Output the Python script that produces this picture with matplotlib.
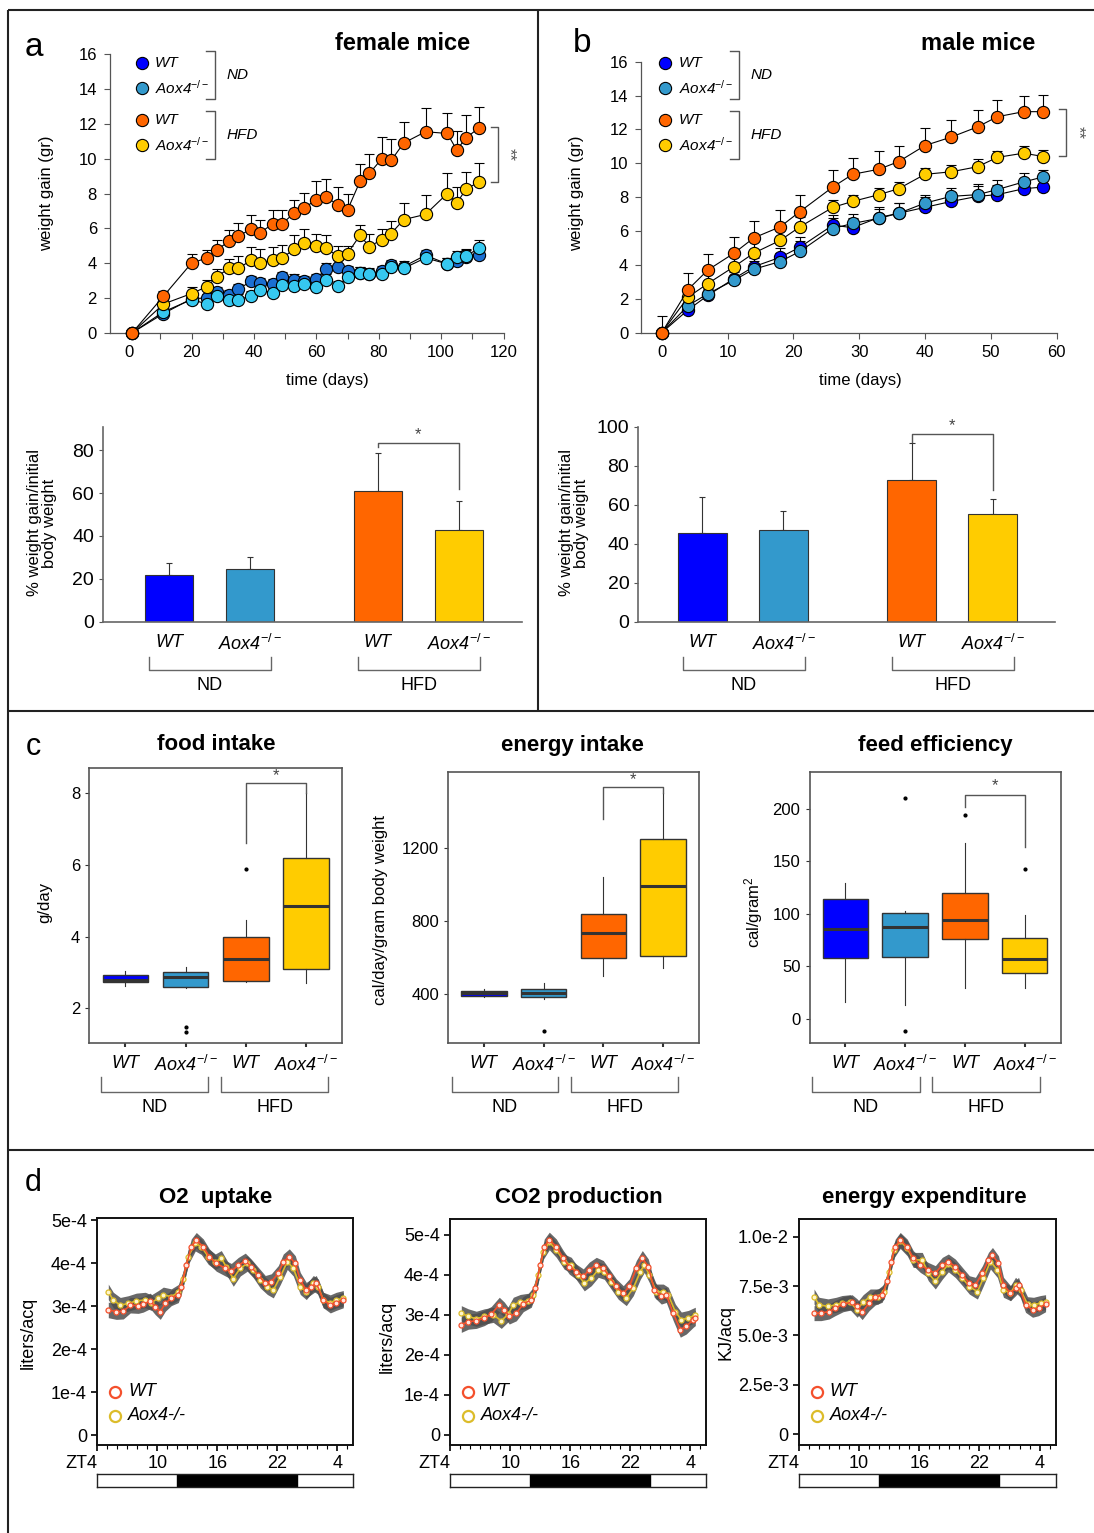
import matplotlib
matplotlib.use('Agg')
import matplotlib.pyplot as plt
import numpy as np

plt.rcParams['font.family'] = ['Liberation Sans', 'DejaVu Sans']
plt.rcParams['mathtext.fontset'] = 'custom'
plt.rcParams['mathtext.rm'] = 'Liberation Sans'
plt.rcParams['mathtext.it'] = 'Liberation Sans:italic'

W, H = 1094, 1533

# colours
C_WT_ND = '#0000ff'
C_KO_ND = '#3399cc'
C_WT_HFD = '#ff6600'
C_KO_HFD = '#ffcc00'
C_WT_ND_F = '#1b6fd2'   # plotted points in female panel
C_KO_ND_F = '#36c8f0'
C_D_WT = '#f4502c'
C_D_KO = '#dcbc2a'

# ---------- panel a: female weight gain ----------
female_days = [1, 11, 20, 25, 28, 32, 35, 39, 42, 46, 49, 53, 56, 60, 63, 67, 70,
               74, 77, 81, 84, 88, 95, 102, 105, 108, 112]
fem_wt_hfd = [0, 2.1, 4.0, 4.3, 4.75, 5.25, 5.55, 5.95, 5.75, 6.25, 6.25, 6.9, 7.15, 7.65,
              7.8, 7.35, 7.05, 8.7, 9.15, 10.0, 9.9, 10.9, 11.55, 11.45, 10.5, 11.2, 11.75]
fem_wt_hfd_err = [0, 0.3, 0.55, 0.45, 0.55, 0.65, 0.75, 0.8, 0.75, 0.8, 0.8, 0.75, 0.9, 1.05,
                  1.05, 1.0, 0.95, 1.0, 1.1, 1.25, 1.25, 1.2, 1.35, 1.2, 1.1, 1.3, 1.2]
fem_ko_hfd = [0, 1.65, 2.25, 2.65, 3.2, 3.7, 3.7, 4.15, 4.0, 4.2, 4.3, 4.8, 5.15, 5.0,
              4.85, 4.4, 4.55, 5.6, 4.95, 5.35, 5.7, 6.5, 6.8, 8.0, 7.45, 8.25, 8.65]
fem_ko_hfd_err = [0, 0.3, 0.4, 0.4, 0.45, 0.55, 0.7, 0.75, 0.8, 0.75, 0.75, 0.8, 0.8, 0.7,
                  0.75, 0.6, 0.45, 0.6, 0.75, 0.6, 0.7, 0.95, 1.1, 1.2, 0.95, 1.0, 1.1]
fem_wt_nd = [0, 1.1, 1.95, 2.0, 2.35, 2.15, 2.5, 2.95, 2.85, 2.8, 3.2, 3.05, 2.95, 3.1,
             3.65, 3.8, 3.55, 3.45, 3.35, 3.55, 3.9, 3.8, 4.45, 3.95, 4.1, 4.35, 4.45]
fem_wt_nd_err = [0, 0.2, 0.25, 0.25, 0.3, 0.3, 0.3, 0.3, 0.3, 0.3, 0.3, 0.3, 0.3, 0.3,
                 0.35, 0.35, 0.3, 0.3, 0.3, 0.3, 0.3, 0.3, 0.3, 0.35, 0.4, 0.4, 0.45]
fem_ko_nd = [0, 1.2, 1.9, 1.65, 2.1, 1.9, 1.9, 2.1, 2.45, 2.3, 2.75, 2.7, 2.8, 2.6,
             3.05, 2.7, 3.2, 3.45, 3.4, 3.4, 3.8, 3.7, 4.3, 3.95, 4.35, 4.4, 4.85]
fem_ko_nd_err = [0, 0.2, 0.25, 0.25, 0.25, 0.3, 0.3, 0.3, 0.3, 0.3, 0.3, 0.3, 0.3, 0.3,
                 0.3, 0.3, 0.3, 0.3, 0.3, 0.3, 0.3, 0.3, 0.3, 0.35, 0.35, 0.4, 0.45]

# ---------- panel b: male weight gain ----------
male_days = [0, 4, 7, 11, 14, 18, 21, 26, 29, 33, 36, 40, 44, 48, 51, 55, 58]
male_wt_hfd = [0, 2.55, 3.7, 4.7, 5.6, 6.25, 7.15, 8.6, 9.35, 9.65, 10.1, 11.05, 11.55,
               12.15, 12.75, 13.05, 13.05]
male_wt_hfd_err = [0, 0.95, 0.95, 0.95, 1.0, 1.0, 1.0, 1.0, 0.95, 1.05, 0.95, 1.05, 1.0,
                   1.0, 1.0, 0.95, 1.0]
male_ko_hfd = [0, 2.1, 2.9, 3.9, 4.7, 5.45, 6.25, 7.4, 7.75, 8.15, 8.5, 9.35, 9.5, 9.8,
               10.35, 10.6, 10.4]
male_ko_hfd_err = [0, 0.6, 0.7, 0.7, 0.7, 0.65, 0.6, 0.45, 0.4, 0.4, 0.4, 0.35, 0.4, 0.45,
                   0.35, 0.4, 0.4]
male_wt_nd = [0, 1.35, 2.2, 3.2, 3.9, 4.45, 5.05, 6.35, 6.2, 6.8, 7.05, 7.4, 7.75, 8.05,
              8.15, 8.5, 8.6]
male_wt_nd_err = [0, 0.4, 0.4, 0.5, 0.5, 0.55, 0.6, 0.6, 0.6, 0.6, 0.6, 0.6, 0.55, 0.6,
                  0.55, 0.55, 0.55]
male_ko_nd = [0, 1.6, 2.3, 3.1, 3.75, 4.2, 4.8, 6.15, 6.45, 6.75, 7.05, 7.65, 8.05, 8.15,
              8.45, 8.9, 9.2]
male_ko_nd_err = [1.0, 0.45, 0.45, 0.5, 0.5, 0.5, 0.6, 0.6, 0.55, 0.55, 0.6, 0.5, 0.5,
                  0.65, 0.55, 0.5, 0.4]

# ---------- % weight gain bars ----------
bar_labels = ['WT', 'Aox4$^{-/-}$', 'WT', 'Aox4$^{-/-}$']
fem_pct = [22.0, 24.4, 60.9, 42.7]
fem_pct_err = [5.5, 5.6, 18.0, 13.7]
male_pct = [45.3, 47.0, 72.5, 55.0]
male_pct_err = [18.8, 9.9, 19.0, 8.1]

# ---------- panel c boxplots ----------
food_q1 = [2.73, 2.60, 2.77, 3.10]
food_med = [2.79, 2.88, 3.37, 4.84]
food_q3 = [2.93, 3.00, 4.00, 6.19]
food_lo = [2.62, 2.56, 2.73, 2.70]
food_hi = [3.04, 3.16, 4.47, 8.00]
food_out = [[], [1.49, 1.35], [5.89], []]

energy_q1 = [393, 384, 600, 609]
energy_med = [407, 407, 733, 993]
energy_q3 = [418, 427, 836, 1245]
energy_lo = [384, 376, 500, 542]
energy_hi = [427, 464, 1042, 1496]
energy_out = [[], [202], [], []]

feed_q1 = [58.3, 59.3, 75.8, 43.4]
feed_med = [85.6, 87.8, 94.1, 57.0]
feed_q3 = [114.1, 101.1, 120.1, 77.3]
feed_lo = [16.5, 13.3, 29.2, 29.2]
feed_hi = [129.6, 102.4, 167.0, 98.9]
feed_out = [[], [209.8, -11.4], [194.0], [142.6]]

# ---------- panel d indirect calorimetry ----------
o2_wt_zt = [5.1, 5.9, 6.6, 7.3, 8.1, 8.6, 9.3, 9.8, 10.3, 10.8, 11.4, 12.1, 12.4, 12.9, 13.4,
            13.9, 14.6, 15.2, 15.9, 16.8, 17.4, 18.1, 18.8, 19.4, 20.1, 20.8, 21.4, 22.1,
            22.6, 23.2, 23.8, 24.3, 24.9, 25.4, 25.9, 26.6, 27.3, 27.9, 28.6]
o2_wt = [2.91, 2.87, 2.88, 3.02, 3.01, 3.04, 3.12, 2.98, 2.87, 3.06, 3.19, 3.26, 3.45, 3.95,
         4.38, 4.53, 4.38, 4.15, 3.99, 3.88, 3.81, 3.95, 4.05, 3.91, 3.72, 3.53, 3.57, 3.76,
         4.03, 4.15, 3.99, 3.60, 3.37, 3.45, 3.53, 3.14, 3.02, 3.08, 3.14]
o2_ko_zt = [5.1, 5.6, 6.3, 7.1, 7.9, 8.8, 9.4, 10.1, 10.6, 11.4, 12.1, 12.6, 13.1, 13.8, 14.4,
            15.1, 15.8, 16.4, 16.9, 17.6, 18.3, 19.0, 19.6, 20.3, 21.0, 21.6, 22.3, 23.0,
            23.6, 24.3, 24.9, 25.6, 26.1, 26.6, 27.3, 27.9, 28.6]
o2_ko = [3.33, 3.14, 3.02, 3.06, 3.12, 3.14, 3.08, 3.18, 3.26, 3.22, 3.32, 3.64, 4.15, 4.46,
         4.38, 4.15, 4.03, 4.11, 3.91, 3.64, 3.88, 3.99, 3.84, 3.60, 3.45, 3.37, 3.68, 4.03,
         3.88, 3.45, 3.33, 3.53, 3.45, 3.14, 3.08, 3.14, 3.18]

co2_wt_zt = [5.1, 5.8, 6.6, 7.4, 8.1, 8.9, 9.4, 9.9, 10.6, 11.3, 12.1, 12.5, 13.0, 13.4, 13.9,
             14.6, 15.3, 15.9, 16.6, 17.3, 17.9, 18.6, 19.3, 19.9, 20.6, 21.3, 21.9, 22.6,
             23.2, 23.8, 24.4, 25.1, 25.6, 26.3, 27.0, 27.6, 28.3, 28.5]
co2_wt = [2.75, 2.83, 2.85, 2.92, 3.02, 3.25, 3.13, 2.96, 3.04, 3.27, 3.38, 3.67, 4.25, 4.71,
          4.88, 4.71, 4.42, 4.21, 4.08, 3.96, 4.13, 4.25, 4.17, 3.96, 3.71, 3.54, 3.71, 4.17,
          4.42, 4.21, 3.63, 3.46, 3.50, 3.04, 2.63, 2.71, 2.88, 2.92]
co2_ko_zt = [5.1, 5.8, 6.6, 7.4, 8.3, 9.1, 9.8, 10.3, 11.0, 11.8, 12.3, 12.8, 13.3, 13.9, 14.6,
             15.4, 16.1, 16.8, 17.4, 18.1, 18.8, 19.4, 20.1, 20.8, 21.6, 22.3, 23.0, 23.4,
             23.9, 24.6, 25.3, 25.8, 26.5, 27.1, 27.8, 28.5]
co2_ko = [3.04, 2.96, 2.90, 2.96, 3.00, 2.85, 3.02, 3.25, 3.32, 3.35, 3.50, 4.00, 4.58, 4.82,
          4.63, 4.33, 4.25, 4.00, 3.79, 3.92, 4.13, 4.08, 3.83, 3.58, 3.42, 3.67, 4.08, 4.25,
          4.00, 3.58, 3.58, 3.50, 3.08, 2.88, 2.92, 3.00]

ee_wt_zt = [5.5, 6.2, 7.0, 7.6, 8.4, 9.3, 9.8, 10.3, 11.0, 11.6, 12.3, 12.8, 13.2, 13.6, 14.1,
            14.8, 15.4, 16.1, 16.9, 17.6, 18.3, 18.9, 19.6, 20.3, 21.0, 21.6, 22.3, 22.9,
            23.3, 23.9, 24.4, 25.1, 25.6, 25.9, 26.6, 27.3, 27.9, 28.6]
ee_wt = [6.13, 6.13, 6.21, 6.38, 6.58, 6.68, 6.47, 6.18, 6.64, 6.92, 7.06, 7.73, 8.74, 9.49,
         9.83, 9.49, 8.91, 8.57, 8.31, 8.15, 8.57, 8.74, 8.48, 8.06, 7.64, 7.56, 8.15, 8.82,
         9.07, 8.65, 7.56, 7.14, 7.39, 7.56, 6.55, 6.30, 6.38, 6.58]
ee_ko_zt = [5.5, 6.0, 6.9, 7.7, 8.3, 9.1, 9.8, 10.4, 11.1, 11.9, 12.5, 13.0, 13.5, 14.1, 14.8,
            15.4, 16.3, 16.9, 17.6, 18.3, 18.9, 19.6, 20.3, 21.0, 21.8, 22.4, 23.1, 23.8,
            24.4, 25.1, 25.6, 26.1, 26.8, 27.4, 28.1, 28.6]
ee_ko = [6.97, 6.55, 6.47, 6.55, 6.64, 6.68, 6.30, 6.68, 6.97, 6.97, 7.22, 8.23, 9.32, 9.78,
         9.41, 8.82, 8.82, 8.15, 7.73, 8.23, 8.60, 8.31, 7.90, 7.47, 7.22, 7.90, 8.74, 8.31,
         7.31, 7.14, 7.56, 7.31, 6.58, 6.55, 6.64, 6.68]

fig = plt.figure(figsize=(W / 100, H / 100), dpi=100)


def add_ax(x0, y0, x1, y1, **kw):
    return fig.add_axes([x0 / W, 1 - y1 / H, (x1 - x0) / W, (y1 - y0) / H], **kw)


def weight_panel(ax, days, series, xlim, xmaj, xmin):
    for vals, errs, col in series:
        ax.errorbar(days, vals, yerr=[np.zeros(len(errs)), errs], fmt='none', ecolor='black',
                    elinewidth=0.8, capsize=3.5, capthick=0.8, zorder=2, clip_on=False)
    for vals, errs, col in series:
        ax.plot(days, vals, '-', color='black', lw=0.8, marker='o', ms=8.8, mfc=col,
                mec='black', mew=0.8, zorder=3, clip_on=False)
    ax.set_xlim(*xlim)
    ax.set_ylim(0, 16)
    ax.set_xticks(np.arange(0, xlim[1] + 1, xmaj))
    ax.set_xticks(np.arange(0, xlim[1] + 1, xmin), minor=True)
    ax.set_yticks(np.arange(0, 17, 2))
    for s in ['top', 'right']:
        ax.spines[s].set_visible(False)
    for s in ['left', 'bottom']:
        ax.spines[s].set_color('#555555')
        ax.spines[s].set_linewidth(0.9)
    ax.tick_params(which='both', direction='out', length=4, width=0.8, color='#555555',
                   labelsize=12, pad=5)
    ax.patch.set_alpha(0)


ax_a = add_ax(109.5, 54.3, 503.5, 332.7)
weight_panel(ax_a, female_days,
             [(fem_wt_nd, fem_wt_nd_err, C_WT_ND_F), (fem_ko_nd, fem_ko_nd_err, C_KO_ND_F),
              (fem_ko_hfd, fem_ko_hfd_err, C_KO_HFD), (fem_wt_hfd, fem_wt_hfd_err, C_WT_HFD)],
             (-6.3, 120), 20, 10)

ax_b = add_ax(640.7, 61.7, 1056.5, 332.7)
weight_panel(ax_b, male_days,
             [(male_wt_nd, male_wt_nd_err, C_WT_ND), (male_ko_nd, male_ko_nd_err, C_KO_ND),
              (male_ko_hfd, male_ko_hfd_err, C_KO_HFD), (male_wt_hfd, male_wt_hfd_err, C_WT_HFD)],
             (-3.2, 60), 10, 10)

# bars
bar_pos = [0, 1, 2.58, 3.58]
bar_colors = [C_WT_ND, C_KO_ND, C_WT_HFD, C_KO_HFD]


def pct_panel(ax, vals, errs, ymax, yticks, xlim, sig):
    ax.errorbar(bar_pos, vals, yerr=[[0] * 4, errs], fmt='none', ecolor='#333333',
                elinewidth=0.8, capsize=2.5, capthick=0.8, zorder=1)
    ax.bar(bar_pos, vals, width=0.6, color=bar_colors, edgecolor='#333333', lw=0.8, zorder=2)
    ax.set_xlim(*xlim)
    ax.set_ylim(0, ymax)
    ax.set_yticks(yticks)
    ax.set_xticks(bar_pos, bar_labels, fontstyle='italic', fontsize=13)
    ax.tick_params(axis='x', length=0, pad=9)
    ax.tick_params(axis='y', direction='out', length=3, width=0.8, color='#555555', labelsize=14)
    for s in ['top', 'right']:
        ax.spines[s].set_visible(False)
    for s in ['left', 'bottom']:
        ax.spines[s].set_color('#666666')
        ax.spines[s].set_linewidth(1.2)
    yl, ytop, yr, ystar = sig
    ax.plot([bar_pos[2], bar_pos[2], bar_pos[3], bar_pos[3]], [yl, ytop, ytop, yr],
            color='#555555', lw=1, clip_on=False)
    ax.text((bar_pos[2] + bar_pos[3]) / 2, ystar, '*', ha='center', va='center',
            fontsize=12, color='#444444')
    ax.patch.set_alpha(0)


ax_pa = add_ax(103, 426.7, 522, 621.7)
pct_panel(ax_pa, fem_pct, fem_pct_err, 91, [0, 20, 40, 60, 80], (-0.815, 4.36),
          (81.6, 83.4, 61.7, 87.5))
ax_pb = add_ax(638.4, 426.7, 1055, 621.7)
pct_panel(ax_pb, male_pct, male_pct_err, 100, [0, 20, 40, 60, 80, 100], (-0.79, 4.35),
          (92.0, 96.4, 67.5, 100.5))

# boxplots
box_colors = [C_WT_ND, C_KO_ND, C_WT_HFD, C_KO_HFD]


def box_panel(ax, q1, med, q3, lo, hi, out, ylim, yticks, sig):
    stats = [dict(q1=q1[i], med=med[i], q3=q3[i], whislo=lo[i], whishi=hi[i], fliers=out[i])
             for i in range(4)]
    bp = ax.bxp(stats, positions=[1, 2, 3, 4], widths=0.76, patch_artist=True,
                showcaps=False,
                boxprops=dict(edgecolor='#333333', linewidth=1.0),
                medianprops=dict(color='#333333', linewidth=2.2),
                whiskerprops=dict(color='#333333', linewidth=0.8),
                flierprops=dict(marker='o', markersize=2, markerfacecolor='black',
                                markeredgecolor='black'))
    for patch, c in zip(bp['boxes'], box_colors):
        patch.set_facecolor(c)
    ax.set_xlim(0.4, 4.6)
    ax.set_ylim(*ylim)
    ax.set_yticks(yticks)
    ax.set_xticks([1, 2, 3, 4], bar_labels, fontstyle='italic', fontsize=13)
    ax.tick_params(axis='x', length=3, width=1.5, color='#333333', pad=6)
    ax.tick_params(axis='y', length=3, width=0.8, color='#333333', labelsize=12)
    for s in ax.spines.values():
        s.set_color('#555555')
        s.set_linewidth(1.2)
    yl, ytop, yr, ystar = sig
    ax.plot([3, 3, 4, 4], [yl, ytop, ytop, yr], color='#555555', lw=1)
    ax.text(3.5, ystar, '*', ha='center', va='center', fontsize=12, color='#444444')


ax_food = add_ax(89.3, 767.7, 342, 1042.7)
box_panel(ax_food, food_q1, food_med, food_q3, food_lo, food_hi, food_out, (1.04, 8.71),
          [2, 4, 6, 8], (6.6, 8.28, 8.0, 8.48))
ax_energy = add_ax(448, 772, 699, 1042.7)
box_panel(ax_energy, energy_q1, energy_med, energy_q3, energy_lo, energy_hi, energy_out,
          (136, 1613), [400, 800, 1200], (1355, 1533, 1500, 1572))
ax_feed = add_ax(809.5, 772.3, 1060.6, 1042.7)
box_panel(ax_feed, feed_q1, feed_med, feed_q3, feed_lo, feed_hi, feed_out, (-22.5, 234.6),
          [0, 50, 100, 150, 200], (202, 213, 163.9, 221.5))


# calorimetry
def cal_panel(ax, wt_zt, wt_v, ko_zt, ko_v, scale, se, ylim, yticks, ylabels):
    wt_v = np.array(wt_v) * scale
    ko_v = np.array(ko_v) * scale
    ax.fill_between(ko_zt, ko_v - se, ko_v + se, color='#4d4d4d', alpha=0.85, lw=0)
    ax.fill_between(wt_zt, wt_v - se, wt_v + se, color='#4d4d4d', alpha=0.85, lw=0)
    ax.plot(ko_zt, ko_v, color=C_D_KO, lw=1.2, marker='o', ms=3.6, mfc='#fff6cc',
            mec=C_D_KO, mew=0.9)
    ax.plot(wt_zt, wt_v, color=C_D_WT, lw=1.2, marker='o', ms=3.6, mfc='#ffe8e0',
            mec=C_D_WT, mew=0.9)
    ax.set_xlim(4, 29.6)
    ax.set_ylim(*ylim)
    ax.set_yticks(yticks, ylabels)
    ax.set_xticks([4, 10, 16, 22, 28], ['ZT4', '10', '16', '22', '4'])
    ax.set_xticks(np.arange(4, 30, 1), minor=True)
    ax.get_xticklabels()[0].set_ha('right')
    ax.tick_params(which='both', length=4, width=1.2, color='black', labelsize=13)
    ax.tick_params(which='minor', length=3, width=0.8)
    for s in ax.spines.values():
        s.set_color('#111111')
        s.set_linewidth(1.4)
    ax.plot([], [])
    # legend
    ax.plot([0.07], [0.235], 'o', transform=ax.transAxes, ms=8, mfc='none', mec=C_D_WT, mew=1.6)
    ax.plot([0.07], [0.13], 'o', transform=ax.transAxes, ms=8, mfc='none', mec=C_D_KO, mew=1.6)
    ax.text(0.12, 0.235, 'WT', transform=ax.transAxes, va='center', fontstyle='italic',
            fontsize=13)
    ax.text(0.12, 0.13, 'Aox4-/-', transform=ax.transAxes, va='center', fontstyle='italic',
            fontsize=13)


def light_bar(x0, x1):
    axl = add_ax(x0, 1474, x1, 1486.7)
    axl.set_xlim(4, 29.6)
    axl.set_ylim(0, 1)
    axl.axvspan(12, 24, color='black')
    axl.set_xticks([])
    axl.set_yticks([])
    for s in axl.spines.values():
        s.set_color('#222222')
        s.set_linewidth(1.0)


ax_o2 = add_ax(97.3, 1218.3, 353.3, 1445)
cal_panel(ax_o2, o2_wt_zt, o2_wt, o2_ko_zt, o2_ko, 1e-4, 1.8e-5, (-0.23e-4, 5.04e-4),
          [0, 1e-4, 2e-4, 3e-4, 4e-4, 5e-4], ['0', '1e-4', '2e-4', '3e-4', '4e-4', '5e-4'])
light_bar(97.3, 353.3)

ax_co2 = add_ax(450.3, 1219, 706.3, 1445)
cal_panel(ax_co2, co2_wt_zt, co2_wt, co2_ko_zt, co2_ko, 1e-4, 1.9e-5, (-0.26e-4, 5.4e-4),
          [0, 1e-4, 2e-4, 3e-4, 4e-4, 5e-4], ['0', '1e-4', '2e-4', '3e-4', '4e-4', '5e-4'])
light_bar(450.3, 706.3)

ax_ee = add_ax(799, 1219, 1055.6, 1445)
cal_panel(ax_ee, ee_wt_zt, ee_wt, ee_ko_zt, ee_ko, 1e-3, 0.38e-3, (-0.54e-3, 10.89e-3),
          [0, 2.5e-3, 5e-3, 7.5e-3, 1e-2], ['0', '2.5e-3', '5.0e-3', '7.5e-3', '1.0e-2'])
light_bar(799, 1055.6)

# ---------- overlay for frames, legends, labels ----------
ov = fig.add_axes([0, 0, 1, 1], zorder=10)
ov.set_xlim(0, W)
ov.set_ylim(H, 0)
ov.axis('off')
ov.patch.set_alpha(0)

frame_kw = dict(color='#222222', lw=1.5, solid_capstyle='butt')
ov.plot([8, W], [10, 10], **frame_kw)
ov.plot([8, 8], [10, H], **frame_kw)
ov.plot([538, 538], [10, 711], **frame_kw)
ov.plot([8, W], [711, 711], **frame_kw)
ov.plot([8, W], [1150, 1150], **frame_kw)

# panel letters
ov.text(34, 47, 'a', fontsize=24, ha='center', va='center')
ov.text(582, 43, 'b', fontsize=24, ha='center', va='center')
ov.text(33, 747, 'c', fontsize=22, ha='center', va='center')
ov.text(33, 1183, 'd', fontsize=22, ha='center', va='center')

# titles
ov.text(403, 43, 'female mice', fontsize=17, fontweight='bold', ha='center', va='center')
ov.text(978, 43, 'male mice', fontsize=17, fontweight='bold', ha='center', va='center')
for x, t in [(216, 'food intake'), (572, 'energy intake'), (935, 'feed efficiency')]:
    ov.text(x, 745, t, fontsize=16, fontweight='bold', ha='center', va='center')
for x, t in [(216, 'O2  uptake'), (579, 'CO2 production'), (924, 'energy expenditure')]:
    ov.text(x, 1197, t, fontsize=16, fontweight='bold', ha='center', va='center')

# axis labels
ov.text(46.5, 193, 'weight gain (gr)', fontsize=12, rotation=90, ha='center', va='center')
ov.text(577, 193, 'weight gain (gr)', fontsize=12, rotation=90, ha='center', va='center')
ov.text(327, 380, 'time (days)', fontsize=12, ha='center', va='center')
ov.text(860, 380, 'time (days)', fontsize=12, ha='center', va='center')
ov.text(42, 523, '% weight gain/initial\nbody weight', fontsize=12, rotation=90,
        ha='center', va='center', linespacing=0.95)
ov.text(574, 523, '% weight gain/initial\nbody weight', fontsize=12, rotation=90,
        ha='center', va='center', linespacing=0.95)
ov.text(45, 902, 'g/day', fontsize=12, rotation=90, ha='center', va='center')
ov.text(380, 910, 'cal/day/gram body weight', fontsize=12, rotation=90, ha='center',
        va='center')
ov.text(754, 912, 'cal/gram$^2$', fontsize=12, rotation=90, ha='center', va='center')
ov.text(28, 1333, 'liters/acq', fontsize=13, rotation=90, ha='center', va='center')
ov.text(387, 1337, 'liters/acq', fontsize=13, rotation=90, ha='center', va='center')
ov.text(726, 1333, 'KJ/acq', fontsize=13, rotation=90, ha='center', va='center')


# legends of weight panels
def weight_legend(xc, xt, xb, nd_cols):
    cols = [nd_cols[0], nd_cols[1], C_WT_HFD, C_KO_HFD]
    labs = ['WT', 'Aox4$^{-/-}$', 'WT', 'Aox4$^{-/-}$']
    for y, c, l in zip([63, 88, 120, 145], cols, labs):
        ov.plot([xc], [y], 'o', ms=8.8, mfc=c, mec='black', mew=0.8)
        ov.text(xt, y, l, fontsize=11, fontstyle='italic', ha='left', va='center')
    for y0, y1, lab in [(51, 99, 'ND'), (111, 159, 'HFD')]:
        ov.plot([xb - 9, xb, xb, xb - 9], [y0, y0, y1, y1], color='#555555', lw=1)
        ov.text(xb + 12, (y0 + y1) / 2, lab, fontsize=11, fontstyle='italic', ha='left',
                va='center')


weight_legend(142, 155, 215, [C_WT_ND, C_KO_ND])
weight_legend(665, 679, 739, [C_WT_ND, C_KO_ND])


def star_bracket(xb, y0, y1, xs):
    ov.plot([xb - 7, xb, xb, xb - 7], [y0, y0, y1, y1], color='#555555', lw=1)
    ov.text(xs, (y0 + y1) / 2, '**', fontsize=12, rotation=270, ha='center', va='center',
            color='#555555')


star_bracket(498, 127, 182, 509)
star_bracket(1066, 109, 156, 1078)


# ND / HFD group brackets
def group_bracket(x0, x1, y, h, label, ly):
    ov.plot([x0, x0, x1, x1], [y - h, y, y, y - h], color='#666666', lw=1)
    ov.text((x0 + x1) / 2, ly, label, fontsize=13, ha='center', va='center')


for x0, x1, lab in [(148.6, 270.7, 'ND'), (358, 480, 'HFD'), (682.5, 804.5, 'ND'),
                    (892, 1014, 'HFD')]:
    group_bracket(x0, x1, 670, 13, lab, 686)
for x0, x1, lab in [(101, 208, 'ND'), (221, 328, 'HFD'), (451.6, 558, 'ND'),
                    (571, 678, 'HFD'), (811.7, 920, 'ND'), (931.7, 1040, 'HFD')]:
    group_bracket(x0, x1, 1091.7, 15, lab, 1107)

fig.savefig('out.png', dpi=100)
